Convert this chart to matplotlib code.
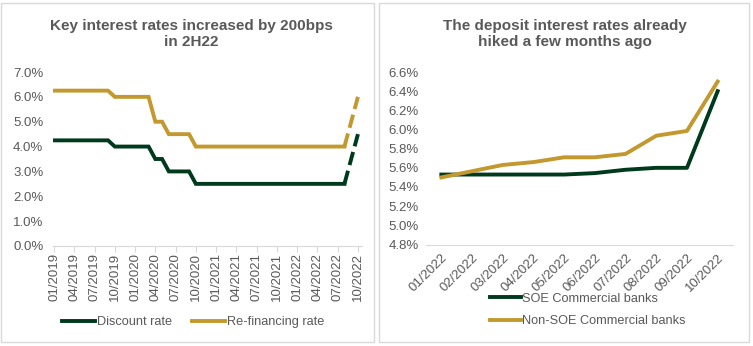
import numpy as np
import pandas as pd
import matplotlib
matplotlib.use("Agg")
import matplotlib.pyplot as plt
from matplotlib.patches import Rectangle
from matplotlib.ticker import PercentFormatter

plt.rcParams['font.family'] = ['Liberation Sans', 'DejaVu Sans']

# Colours
GREEN = "#003A1C"
GOLD = "#C3992F"
TEXT = "#595959"
GRID = "#D9D9D9"

# Left chart: monthly key rates, 01/2019 - 10/2022
months_left = pd.date_range("2019-01-01", "2022-10-01", freq="MS").strftime("%m/%Y").tolist()
discount_rate = ([4.25] * 9 + [4.0] * 6 + [3.5] * 2 + [3.0] * 4 + [2.5] * 23 + [3.5, 4.5])
refinancing_rate = ([6.25] * 9 + [6.0] * 6 + [5.0] * 2 + [4.5] * 4 + [4.0] * 23 + [5.0, 6.0])
dash_from = 43  # last two months drawn dashed

# Right chart: deposit rates 2022
months_right = ["01/2022", "02/2022", "03/2022", "04/2022", "05/2022",
                "06/2022", "07/2022", "08/2022", "09/2022", "10/2022"]
soe_banks = [5.53, 5.53, 5.53, 5.53, 5.53, 5.545, 5.58, 5.60, 5.60, 6.40]
non_soe_banks = [5.50, 5.565, 5.63, 5.66, 5.71, 5.71, 5.745, 5.935, 5.985, 6.50]

W, H = 753, 346
fig = plt.figure(figsize=(W / 100, H / 100), dpi=100)


def px(x0, y0, x1, y1):
    # pixel box (top-left origin) -> figure fraction rect
    return [x0 / W, 1 - y1 / H, (x1 - x0) / W, (y1 - y0) / H]


# panel borders
for x0, x1 in [(1, 374), (379, 749)]:
    fig.patches.append(Rectangle((x0 / W, 1 - 342 / H), (x1 - x0) / W, 339 / H,
                                 transform=fig.transFigure, fill=False,
                                 edgecolor=GRID, linewidth=1))

fs = 9.5
lfs = 9.2
lw = 2.8

# ---- left chart
ax1 = fig.add_axes(px(53, 72, 362, 246))
x = np.arange(len(months_left))
ax1.plot(x[:dash_from + 1], discount_rate[:dash_from + 1], color=GREEN, lw=lw,
         label="Discount rate", solid_joinstyle="miter")
ax1.plot(x[:dash_from + 1], refinancing_rate[:dash_from + 1], color=GOLD, lw=lw,
         label="Re-financing rate", solid_joinstyle="miter")
ax1.plot(x[dash_from:], discount_rate[dash_from:], color=GREEN, lw=lw, ls=(0, (3.5, 1.5)))
ax1.plot(x[dash_from:], refinancing_rate[dash_from:], color=GOLD, lw=lw, ls=(0, (3.5, 1.5)))
ax1.set_xlim(-0.15, 45.6)
ax1.set_ylim(0, 7)
ax1.set_yticks(np.arange(0, 7.01, 1))
ax1.yaxis.set_major_formatter(PercentFormatter(decimals=1))
ax1.set_xticks(x[::3])
ax1.set_xticklabels(months_left[::3], rotation=90)
ax1.tick_params(axis="x", colors=GRID, labelcolor=TEXT, labelsize=fs, length=4, pad=1)
ax1.tick_params(axis="y", length=0, labelcolor=TEXT, labelsize=fs, pad=7)
for s in ["top", "right", "left"]:
    ax1.spines[s].set_visible(False)
ax1.spines["bottom"].set_color(GRID)
fig.text(191 / W, 1 - 34 / H, "Key interest rates increased by 200bps\nin 2H22",
         ha="center", va="center", fontsize=11, fontweight="bold", color=TEXT,
         linespacing=1.15)
ax1.legend(loc="center", bbox_to_anchor=(193 / W, 1 - 322 / H), bbox_transform=fig.transFigure,
           ncol=2, frameon=False, fontsize=lfs, labelcolor=TEXT, handlelength=2.6,
           handletextpad=0.1, columnspacing=1.6, borderpad=0)

# ---- right chart
ax2 = fig.add_axes(px(426, 72, 733, 244.5))
xr = np.arange(len(months_right))
ax2.plot(xr, soe_banks, color=GREEN, lw=lw, label="SOE Commercial banks")
ax2.plot(xr, non_soe_banks, color=GOLD, lw=lw, label="Non-SOE Commercial banks")
ax2.set_xlim(-0.5, 9.5)
ax2.set_ylim(4.8, 6.6)
ax2.set_yticks(np.arange(4.8, 6.61, 0.2))
ax2.yaxis.set_major_formatter(PercentFormatter(decimals=1))
ax2.set_xticks(xr)
ax2.set_xticklabels(months_right, rotation=45, ha="right", rotation_mode="anchor")
ax2.tick_params(axis="x", length=0, labelcolor=TEXT, labelsize=fs, pad=5)
ax2.tick_params(axis="y", length=0, labelcolor=TEXT, labelsize=fs, pad=5)
for s in ["top", "right", "left"]:
    ax2.spines[s].set_visible(False)
ax2.spines["bottom"].set_color(GRID)
fig.text(565 / W, 1 - 34 / H, "The deposit interest rates already\nhiked a few months ago",
         ha="center", va="center", fontsize=11, fontweight="bold", color=TEXT,
         linespacing=1.15)
ax2.legend(loc="center left", bbox_to_anchor=(484 / W, 1 - 310 / H), bbox_transform=fig.transFigure,
           ncol=1, frameon=False, fontsize=lfs, labelcolor=TEXT, handlelength=2.4,
           handletextpad=0.1, labelspacing=0.8, borderpad=0)

fig.savefig("out.png", dpi=100)
